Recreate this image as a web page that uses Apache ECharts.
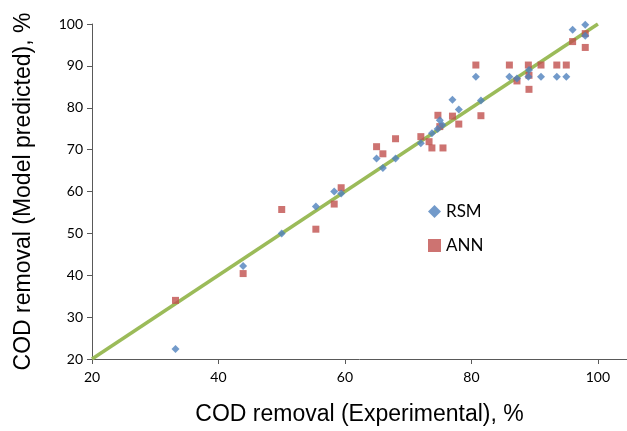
<!DOCTYPE html>
<html><head><meta charset="utf-8">
<script src="https://cdn.jsdelivr.net/npm/echarts@6/dist/echarts.min.js"></script>
<style>html,body{margin:0;padding:0;background:#fff}#c{width:627px;height:431px}</style>
</head><body><div id="c"></div>
<script>
const rsmData = [
  [33.2,22.4],[43.9,42.2],[50.0,50.0],[55.4,56.4],[58.3,60.0],[59.4,59.5],
  [65.0,67.9],[66.0,65.6],[68.0,67.9],[72.0,71.5],[73.75,73.9],[74.65,74.9],
  [75.0,77.0],[75.4,75.9],[77.0,81.9],[78.0,79.6],[80.7,87.4],[81.5,81.75],
  [86.0,87.4],[87.2,87.0],[89.0,87.4],[89.1,89.0],[91.0,87.4],[93.5,87.4],
  [95.0,87.4],[96.0,98.6],[98.0,99.8],[98.0,97.2]
];
const annData = [
  [33.2,34.0],[43.9,40.4],[50.0,55.7],[55.4,51.0],[58.3,57.0],[59.4,60.9],
  [65.0,70.7],[66.0,69.0],[68.0,72.6],[72.0,73.1],[73.3,71.9],[73.75,70.4],
  [74.7,78.2],[75.0,75.5],[75.5,70.4],[77.0,78.0],[78.0,76.1],[80.7,90.2],
  [81.5,78.1],[86.0,90.2],[87.2,86.4],[89.0,90.2],[89.1,87.75],[89.1,84.4],
  [91.0,90.2],[93.5,90.2],[95.0,90.2],[96.0,95.8],[98.0,97.7],[98.0,94.4]
];
const fitLine = [[20,20],[100,100]];
const xTicks = [20,40,60,80,100];

const chart = echarts.init(document.getElementById('c'));
const axisCol = '#595959';
chart.setOption({
  animation: false,
  grid: {left: 92, right: 0, top: 24, bottom: 69, containLabel: false},
  legend: {
    orient: 'vertical', left: 423, top: 198, itemGap: 17,
    itemWidth: 13, itemHeight: 13,
    textStyle: {fontFamily: 'Lato', fontSize: 17, color: '#000'},
    data: [{name: 'RSM', icon: 'diamond'}, {name: 'ANN', icon: 'rect'}]
  },
  xAxis: {
    type: 'value', min: 20, max: 104.6,
    name: 'COD removal (Experimental), %', nameLocation: 'middle', nameGap: 44,
    nameTextStyle: {fontFamily: 'Liberation Sans', fontSize: 23, color: '#000'},
    axisLine: {show: true, lineStyle: {color: axisCol, width: 1}},
    axisTick: {show: true, inside: false, length: 5, lineStyle: {color: axisCol}, customValues: xTicks},
    axisLabel: {fontFamily: 'Lato', fontSize: 14, color: '#000', margin: 11, customValues: xTicks},
    splitLine: {show: false}
  },
  yAxis: {
    type: 'value', min: 20, max: 100, interval: 10,
    name: 'COD removal (Model predicted), %', nameLocation: 'middle', nameGap: 57,
    nameTextStyle: {fontFamily: 'Liberation Sans', fontSize: 23, color: '#000'},
    axisLine: {show: true, lineStyle: {color: axisCol, width: 1}},
    axisTick: {show: true, inside: false, length: 5, lineStyle: {color: axisCol}},
    axisLabel: {fontFamily: 'Lato', fontSize: 14, color: '#000', margin: 9},
    splitLine: {show: false}
  },
  series: [
    {name: 'fit', type: 'line', data: fitLine, showSymbol: false, symbol: 'none',
     lineStyle: {color: '#9BBB59', width: 3.5}, z: 1, silent: true},
    {name: 'RSM', type: 'scatter', data: rsmData, symbol: 'diamond', symbolSize: 8,
     itemStyle: {color: '#4F81BD'}, z: 3},
    {name: 'ANN', type: 'scatter', data: annData, symbol: 'rect', symbolSize: 7,
     itemStyle: {color: '#C0504D'}, z: 2}
  ]
});
</script></body></html>
